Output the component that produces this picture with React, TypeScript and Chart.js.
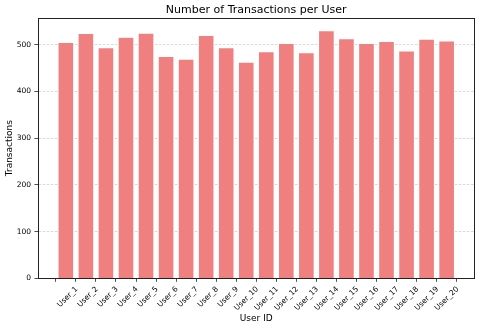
import React, { useEffect, useRef } from "react";
import { Chart, registerables } from "chart.js";

Chart.register(...registerables);

const users = [
  "User_1", "User_2", "User_3", "User_4", "User_5", "User_6", "User_7", "User_8", "User_9", "User_10",
  "User_11", "User_12", "User_13", "User_14", "User_15", "User_16", "User_17", "User_18", "User_19", "User_20",
];
const transactions = [505, 524, 494, 516, 525, 475, 469, 520, 494, 463, 485, 503, 483, 530, 513, 503, 507, 487, 512, 508];
const yTicks = [0, 100, 200, 300, 400, 500];

const FONT = "'DejaVu Sans', sans-serif";

const boxPlugin = {
  id: "boxPlugin",
  afterDraw(chart: any) {
    const { ctx, chartArea } = chart;
    ctx.save();
    ctx.strokeStyle = "#222";
    ctx.lineWidth = 1;
    ctx.strokeRect(Math.round(chartArea.left) + 0.5, Math.round(chartArea.top) + 0.5,
      Math.round(chartArea.right - chartArea.left) - 1, Math.round(chartArea.bottom - chartArea.top));
    ctx.restore();
  },
};

export default function App() {
  const ref = useRef<HTMLCanvasElement>(null);
  useEffect(() => {
    const n = users.length;
    const chart = new Chart(ref.current!, {
      type: "bar",
      data: {
        datasets: [
          {
            data: transactions.map((v, i) => ({ x: i, y: v })),
            backgroundColor: "#F08080",
            borderColor: "#ffffff",
            borderWidth: 0.7,
            barPercentage: 1,
            categoryPercentage: 0.8,
          },
        ],
      },
      options: {
        animation: false,
        responsive: false,
        maintainAspectRatio: false,
        layout: { padding: { left: 0, right: 5.5, top: 0, bottom: 0 } },
        plugins: {
          legend: { display: false },
          tooltip: { enabled: false },
          title: {
            display: true,
            text: "Number of Transactions per User",
            color: "#000",
            fullSize: false,
            font: { family: FONT, size: 11, weight: "normal" },
            padding: { top: 3.4, bottom: 1.4 },
          },
        },
        scales: {
          x: {
            type: "linear",
            min: -1.39,
            max: n - 1 + 1.39,
            offset: false,
            afterBuildTicks: (scale: any) => {
              scale.ticks = users.map((_, i) => ({ value: i }));
            },
            afterFit: (scale: any) => {
              scale.height = 51.7;
            },
            ticks: {
              autoSkip: false,
              minRotation: 45,
              maxRotation: 45,
              labelOffset: 11,
              padding: 3,
              color: "#000",
              font: { family: FONT, size: 7.5 },
              callback: (v: any) => users[v as number] ?? "",
            },
            grid: {
              drawOnChartArea: false,
              drawTicks: true,
              tickLength: 3.5,
              tickColor: "#222",
              tickWidth: 0.8,
            },
            border: { display: true, color: "#222", width: 1 },
            title: {
              display: true,
              text: "User ID",
              color: "#000",
              font: { family: FONT, size: 9 },
              padding: { top: 0, bottom: 5.6 },
            },
          },
          y: {
            min: 0,
            max: 557,
            afterBuildTicks: (scale: any) => {
              scale.ticks = yTicks.map((v) => ({ value: v }));
            },
            afterFit: (scale: any) => {
              scale.width = 38;
            },
            ticks: {
              color: "#000",
              padding: 3.5,
              font: { family: FONT, size: 7.5 },
            },
            grid: {
              color: "rgba(180,180,180,0.75)",
              lineWidth: 0.7,
              drawTicks: true,
              tickLength: 3.5,
              tickColor: "#222",
              tickWidth: 0.8,
              tickBorderDash: [],
            },
            border: { display: true, color: "#222", width: 1, dash: [2.5, 1.5] },
            title: {
              display: true,
              text: "Transactions",
              color: "#000",
              font: { family: FONT, size: 9 },
              padding: { top: 4.6, bottom: 0 },
            },
          },
        },
      },
      plugins: [boxPlugin],
    } as any);
    return () => chart.destroy();
  }, []);
  return (
    <div style={{ position: "fixed", left: 0, top: 0, width: 480, height: 330, background: "#fff" }}>
      <canvas ref={ref} width={480} height={330} style={{ width: 480, height: 330 }} />
    </div>
  );
}
